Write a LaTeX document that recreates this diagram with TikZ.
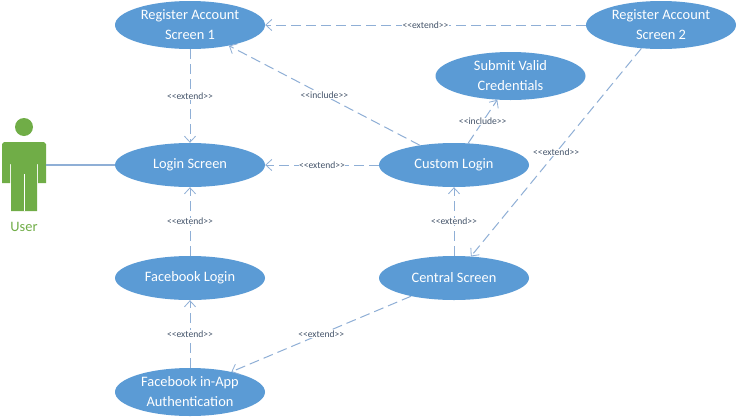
\documentclass[tikz,border=0pt]{standalone}
\usepackage{fontspec}
\setmainfont{Carlito}
\usetikzlibrary{arrows.meta,shapes.geometric}
\definecolor{ucblue}{HTML}{5B9BD5}
\definecolor{ucgreen}{HTML}{70AD47}
\definecolor{edgeblue}{HTML}{8FAFD6}
\definecolor{labelink}{HTML}{44546A}
\tikzset{
  usecase/.style={ellipse,fill=ucblue,text=white,minimum width=150pt,minimum height=#1,inner sep=0pt,align=center,font=\fontsize{14.4pt}{20pt}\selectfont},
  usecase/.default=44pt,
  dep/.style={draw=edgeblue,line width=1pt,dash pattern=on 10pt off 5pt,-{Straight Barb[length=6pt,width=11pt,line width=0.8pt]}},
  assoc/.style={draw=edgeblue,line width=1.2pt},
  lab/.style={fill=white,text=labelink,inner sep=0.5pt,font=\fontsize{9.6pt}{11pt}\selectfont},
  figure part/.style={fill=ucgreen,draw=none}
}
\begin{document}
\begin{tikzpicture}[x=1pt,y=-1pt]
\useasboundingbox (0,0) rectangle (738,418);
\fill[white] (0,0) rectangle (738,418);
\node[usecase=48pt] (rone) at (190,25) {Register Account\\Screen 1};
\node[usecase=48pt] (rtwo) at (661,25) {Register Account\\Screen 2};
\node[usecase=48pt] (submit) at (510.5,76) {Submit Valid\\Credentials};
\node[usecase] (login) at (190,165) {Login Screen};
\node[usecase] (custom) at (454,165) {Custom Login};
\node[usecase] (fblogin) at (190,278) {Facebook Login};
\node[usecase] (central) at (454,278) {Central Screen};
\node[usecase=48pt] (fbapp) at (190,392) {Facebook in-App\\Authentication};
% actor
\fill[figure part] (24,127) circle (9);
\fill[figure part] (4,142) -- (44,142) -- (46,144) -- (46,183) -- (38,183) -- (38,164) -- (37,164) -- (37,211) -- (11,211) -- (11,164) -- (10,164) -- (10,183) -- (2,183) -- (2,144) -- cycle;
\fill[white] (23.5,174) rectangle (24.5,211);
\node[text=ucgreen,inner sep=0pt,font=\fontsize{14.4pt}{16pt}\selectfont] (user) at (24,227) {User};
\coordinate (actor) at (46,165);
% connectors
\draw[assoc] (actor) -- (login.west);
\draw[dep] (rone.south) -- node[lab]{<{}<extend>{}>} (login.north);
\draw[dep] (rtwo.west) -- node[lab]{<{}<extend>{}>} (rone.east);
\draw[dep] (custom.150) -- node[lab]{<{}<include>{}>} (rone.-28);
\draw[dep] (custom.west) -- node[lab]{<{}<extend>{}>} (login.east);
\draw[dep] (custom.57) -- node[lab]{<{}<include>{}>} (submit.241);
\draw[dep] (rtwo.230) -- node[lab]{<{}<extend>{}>} (central.52);
\draw[dep] (central.north) -- node[lab]{<{}<extend>{}>} (custom.south);
\draw[dep] (fblogin.north) -- node[lab]{<{}<extend>{}>} (login.south);
\draw[dep] (fbapp.north) -- node[lab]{<{}<extend>{}>} (fblogin.south);
\draw[dep] (central.203) -- node[lab]{<{}<extend>{}>} (fbapp.26);
\end{tikzpicture}
\end{document}
